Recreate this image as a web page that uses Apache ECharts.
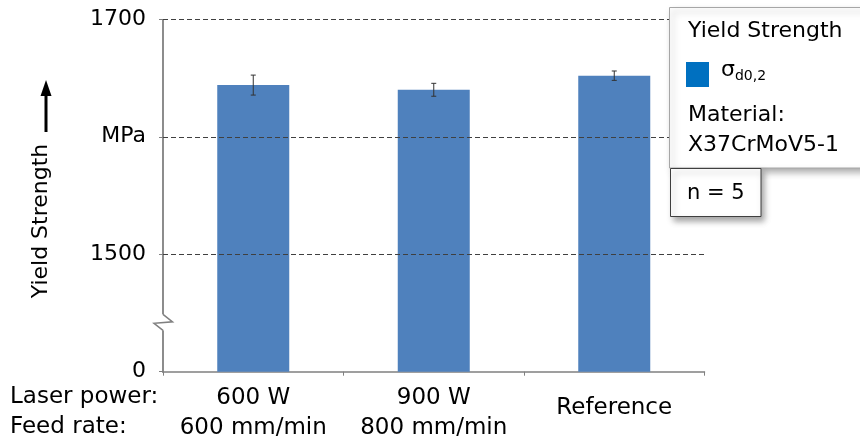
<!DOCTYPE html>
<html>
<head>
<meta charset="utf-8">
<script src="https://cdn.jsdelivr.net/npm/echarts@6/dist/echarts.min.js"></script>
<style>
html,body{margin:0;padding:0;background:#fff;}
#chart{width:860px;height:444px;}
</style>
</head>
<body>
<div id="chart"></div>
<script>
// ---- data ----
const categories = ['600 W\n600 mm/min', '900 W\n800 mm/min', 'Reference'];
const yieldStrength = [1644, 1640, 1652];
const yieldError = [8.5, 5.5, 4];
const yTickValues = [0, 1500, 1600, 1700];
const yTickLabels = ['0', '1500', 'MPa', '1700'];
const gridLineValues = [1500, 1600, 1700];
const axisBreak = [42, 1442];
const seriesName = 'σd0,2';
const rowLabels = ['Laser power:', 'Feed rate:'];
const legendTitle = 'Yield Strength';
const materialLines = ['Material:', 'X37CrMoV5-1'];
const sampleNote = 'n = 5';
const yAxisTitle = 'Yield Strength';

const FONT = 'DejaVu Sans';
const AXIS_COLOR = '#808080';

const chart = echarts.init(document.getElementById('chart'), null, {renderer: 'canvas'});

const option = {
  animation: false,
  backgroundColor: '#fff',
  grid: {left: 163, right: 155.5, top: 19.3, bottom: 72.3},
  xAxis: {
    type: 'category',
    data: categories,
    axisLine: {lineStyle: {color: AXIS_COLOR, width: 1.5}},
    axisTick: {show: true, length: 4, lineStyle: {color: AXIS_COLOR, width: 1}},
    axisLabel: {
      color: '#000', fontFamily: FONT, fontSize: 23, lineHeight: 30,
      verticalAlign: 'middle', margin: 41, interval: 0,
      formatter: v => v.indexOf('\n') < 0 ? '{r|' + v + '}' : v,
      rich: {r: {color: '#000', fontFamily: FONT, fontSize: 23, lineHeight: 30, padding: [0, 0, 10, 0]}}
    },
    splitLine: {show: false}
  },
  yAxis: {
    type: 'value',
    min: 0,
    max: 1700,
    interval: 100,
    breaks: [{start: axisBreak[0], end: axisBreak[1], gap: 0}],
    breakArea: {show: false},
    axisLine: {show: true, lineStyle: {color: AXIS_COLOR, width: 1.8}},
    axisTick: {show: true, length: 4, customValues: yTickValues, lineStyle: {color: AXIS_COLOR, width: 1}},
    axisLabel: {
      color: '#000', fontFamily: FONT, fontSize: 22, margin: 17,
      customValues: yTickValues,
      formatter: v => {
        const i = yTickValues.indexOf(v);
        return i >= 0 ? yTickLabels[i] : '';
      }
    },
    splitLine: {show: false}
  },
  legend: {
    left: 686, top: 59, padding: 0, z: 200,
    itemWidth: 23, itemHeight: 25, selectedMode: false,
    data: [{name: seriesName, icon: 'rect', itemStyle: {color: '#0070C0'}}],
    formatter: () => '{s|σ}{sub|d0,2}',
    textStyle: {
      fontFamily: FONT, color: '#000',
      rich: {
        s: {fontFamily: FONT, fontSize: 22, color: '#000', lineHeight: 17, padding: [0, 0, 9, 7]},
        sub: {fontFamily: FONT, fontSize: 14, color: '#000', lineHeight: 14, verticalAlign: 'bottom'}
      }
    }
  },
  series: [
    {
      name: 'gridlines',
      type: 'line',
      data: [],
      z: 1,
      silent: true,
      markLine: {
        silent: true,
        symbol: ['none', 'none'],
        label: {show: false},
        lineStyle: {color: '#404040', width: 1, type: [5, 3]},
        emphasis: {disabled: true},
        data: gridLineValues.map(v => ({yAxis: v}))
      }
    },
    {
      name: seriesName,
      type: 'bar',
      data: yieldStrength,
      barWidth: 72,
      itemStyle: {color: '#4F81BD'},
      z: 2
    },
    {
      name: 'error',
      type: 'custom',
      data: yieldStrength.map((v, i) => [i, v - yieldError[i], v + yieldError[i]]),
      encode: {x: 0, y: [1, 2]},
      z: 10,
      renderItem: (params, api) => {
        const x = api.value(0);
        const lo = api.coord([x, api.value(1)]);
        const hi = api.coord([x, api.value(2)]);
        const w = 2.5;
        const st = {stroke: '#333', lineWidth: 1};
        return {
          type: 'group',
          children: [
            {type: 'line', shape: {x1: lo[0], y1: lo[1], x2: hi[0], y2: hi[1]}, style: st},
            {type: 'line', shape: {x1: lo[0] - w, y1: lo[1], x2: lo[0] + w, y2: lo[1]}, style: st},
            {type: 'line', shape: {x1: hi[0] - w, y1: hi[1], x2: hi[0] + w, y2: hi[1]}, style: st}
          ]
        };
      }
    }
  ]
};

chart.setOption(option);

// decorations positioned from the chart's own scales
const axisX = chart.convertToPixel({xAxisIndex: 0}, 0) - 90.25;
const yBreak = chart.convertToPixel({yAxisIndex: 0}, axisBreak[0]);

const textStyle = (text, size) => ({text: text, fontFamily: FONT, fontSize: size, fill: '#000', align: 'left', verticalAlign: 'middle'});

chart.setOption({
  graphic: [
    // axis break symbol
    {id: 'brkMask', type: 'rect', z: 50, shape: {x: axisX - 2, y: yBreak - 8, width: 4, height: 16}, style: {fill: '#fff'}},
    {id: 'brk', type: 'polyline', z: 51,
      shape: {points: [[axisX, yBreak - 8], [axisX + 9.5, yBreak - 0.5], [axisX - 9, yBreak + 1], [axisX, yBreak + 8]]},
      style: {stroke: AXIS_COLOR, lineWidth: 1.5, fill: null}},
    // y-axis title with arrow
    {id: 'ytitle', type: 'text', z: 50, x: 41, y: 221, rotation: Math.PI / 2,
      style: {text: yAxisTitle, fontFamily: FONT, fontSize: 22, fill: '#000', align: 'center', verticalAlign: 'middle'}},
    {id: 'yarrowShaft', type: 'line', z: 50, shape: {x1: 46, y1: 132, x2: 46, y2: 93}, style: {stroke: '#000', lineWidth: 3}},
    {id: 'yarrowHead', type: 'polygon', z: 50, shape: {points: [[40.5, 96], [51.5, 96], [46, 80]]}, style: {fill: '#000'}},
    // row labels
    {id: 'row0', type: 'text', z: 50, x: 10, y: 397.3, style: textStyle(rowLabels[0], 23)},
    {id: 'row1', type: 'text', z: 50, x: 10, y: 427.3, style: textStyle(rowLabels[1], 23)},
    // legend box
    {id: 'lgBox', type: 'rect', z: 100, shape: {x: 669.5, y: 7.5, width: 200, height: 160.5},
      style: {fill: '#fff', stroke: '#a6a6a6', lineWidth: 1, shadowBlur: 7, shadowOffsetX: 3, shadowOffsetY: 4, shadowColor: 'rgba(0,0,0,0.35)'}},
    {id: 'lgTitle', type: 'text', z: 101, x: 688, y: 31.5, style: textStyle(legendTitle, 22)},
    {id: 'lgMat1', type: 'text', z: 101, x: 688, y: 115, style: textStyle(materialLines[0], 22)},
    {id: 'lgMat2', type: 'text', z: 101, x: 688, y: 145.5, style: textStyle(materialLines[1], 22)},
    // n = 5 box
    {id: 'nBox', type: 'rect', z: 102, shape: {x: 670.5, y: 168.5, width: 90.5, height: 48},
      style: {fill: '#fff', stroke: '#3f3f3f', lineWidth: 1, shadowBlur: 6, shadowOffsetX: 3, shadowOffsetY: 4, shadowColor: 'rgba(0,0,0,0.35)'}},
    {id: 'nText', type: 'text', z: 103, x: 687, y: 194, style: textStyle(sampleNote, 21)}
  ]
});
</script>
</body>
</html>
